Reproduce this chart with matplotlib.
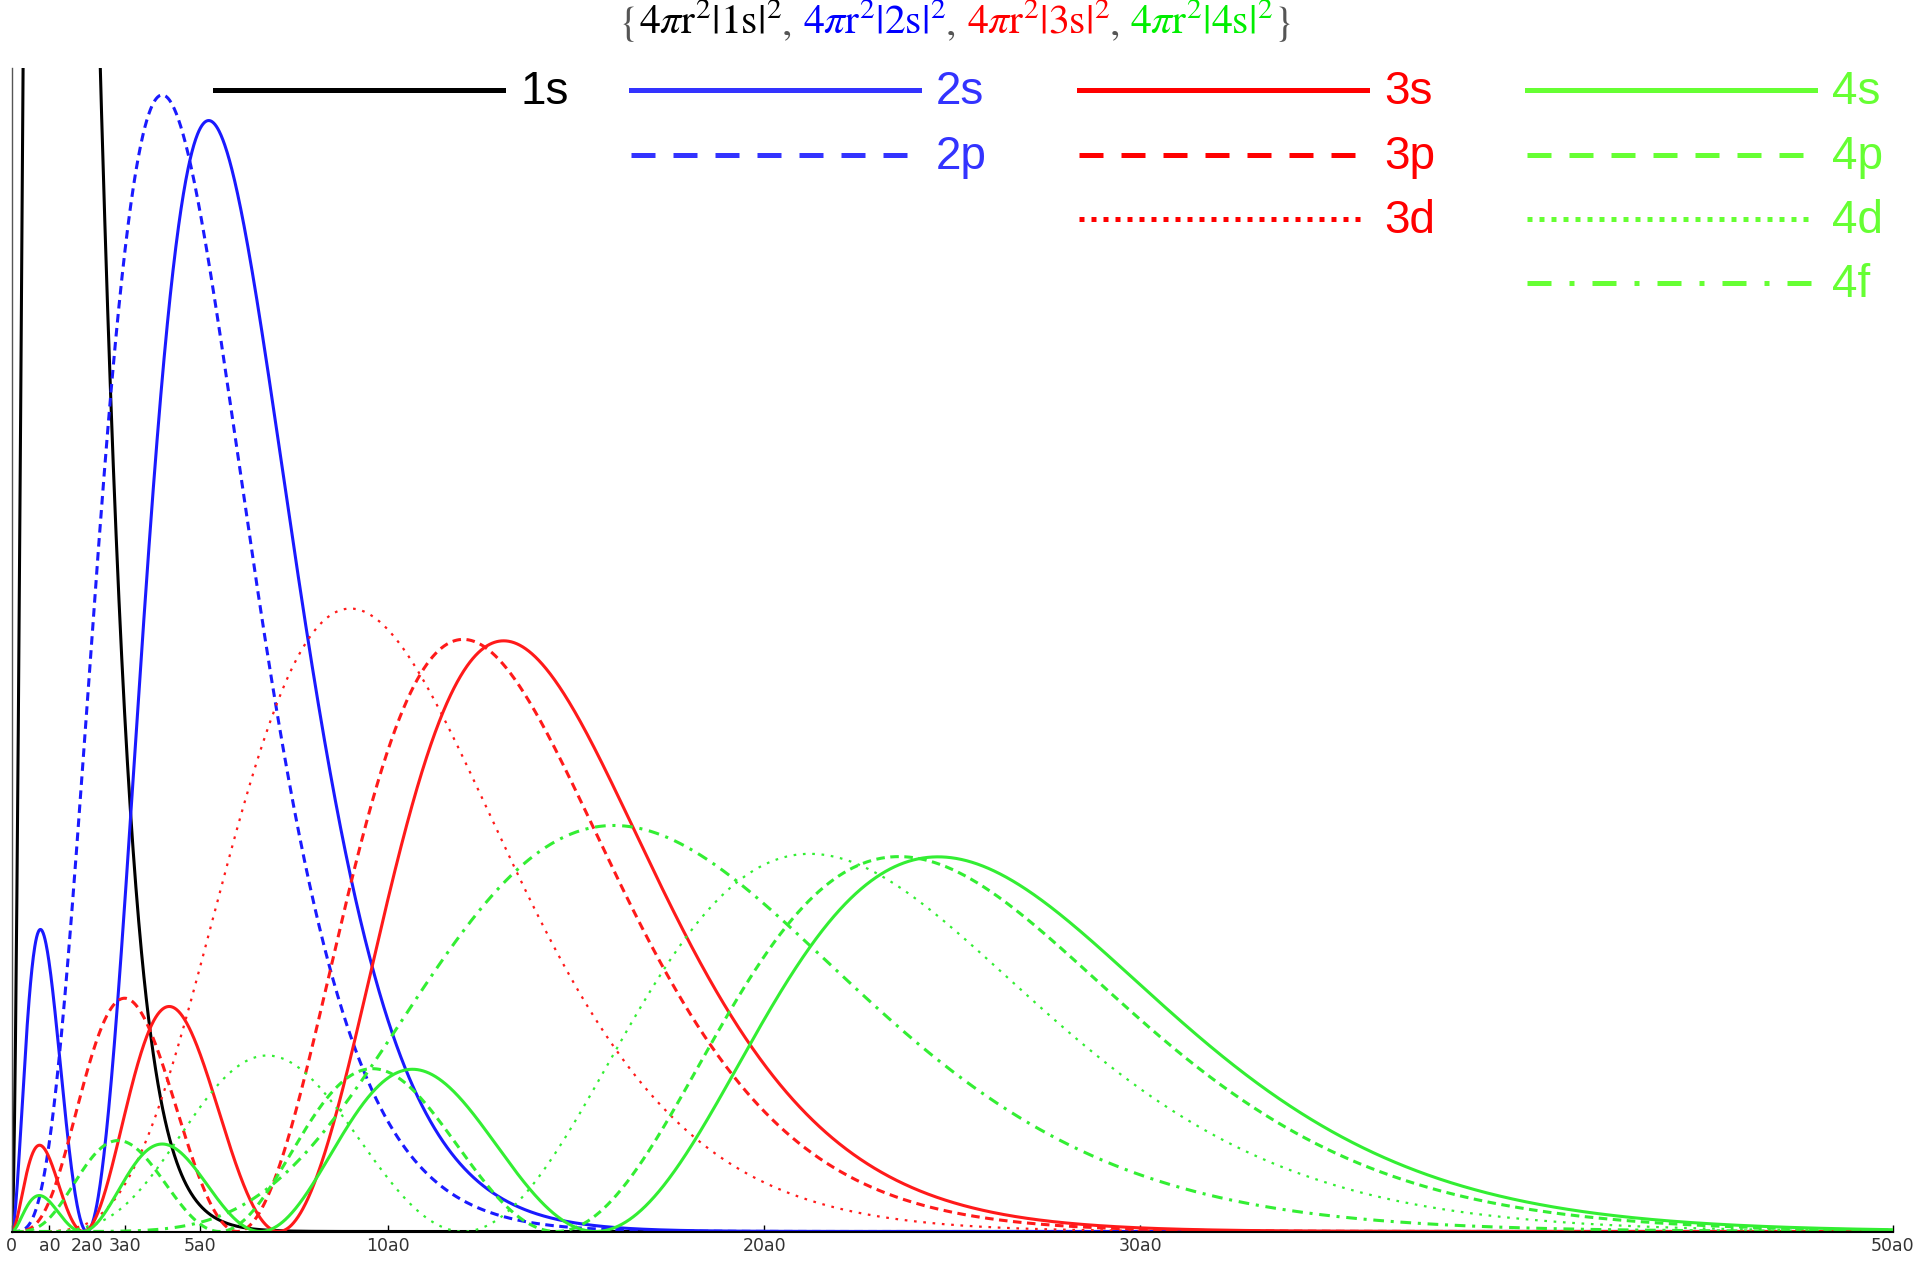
import numpy as np
import matplotlib.pyplot as plt
from matplotlib.lines import Line2D
from math import factorial, comb

orbitals = ["1s", "2s", "2p", "3s", "3p", "3d", "4s", "4p", "4d", "4f"]
n_vals = [1, 2, 2, 3, 3, 3, 4, 4, 4, 4]
l_vals = [0, 0, 1, 0, 1, 2, 0, 1, 2, 3]

tick_pos = [0, 1, 2, 3, 5, 10, 20, 30, 50]
tick_labels = ["0", "a0", "2a0", "3a0", "5a0", "10a0", "20a0", "30a0", "50a0"]
r_max = 50
p_max = 0.2

title_parts = ["{", r"$4\pi\mathrm{r}^2|1\mathrm{s}|^2$", ", ",
               r"$4\pi\mathrm{r}^2|2\mathrm{s}|^2$", ", ",
               r"$4\pi\mathrm{r}^2|3\mathrm{s}|^2$", ", ",
               r"$4\pi\mathrm{r}^2|4\mathrm{s}|^2$", "}"]
title_cols = ["#555555", "black", "#555555", "#0000ff", "#555555", "#ff0000",
              "#555555", "#00ee00", "#555555"]

curve_col = {1: "black", 2: "#1a1aff", 3: "#ff1a1a", 4: "#33ee33"}
leg_col = {1: "black", 2: "#3333ff", 3: "#ff0000", 4: "#66ff33"}


def radial_prob(n, l, r):
    # r^2 |R_nl|^2 with r in units of a0
    rho = 2 * r / n
    k = n - l - 1
    a = 2 * l + 1
    L = sum((-1) ** i * comb(k + a, k - i) * rho ** i / factorial(i) for i in range(k + 1))
    norm = np.sqrt((2 / n) ** 3 * factorial(k) / (2 * n * factorial(n + l)))
    R = norm * np.exp(-rho / 2) * rho ** l * L
    return r ** 2 * R ** 2


def curve_style(l):
    if l == 0:
        return dict(linestyle="-", linewidth=2.2)
    if l == 1:
        return dict(linestyle=(0, (2.8, 1.8)), linewidth=2.2)
    if l == 2:
        return dict(linestyle=(0, (1.2, 3.0)), linewidth=1.6)
    return dict(linestyle=(0, (3.5, 2.2, 1.0, 2.2)), linewidth=2.2)


def legend_style(l):
    if l == 0:
        return dict(linestyle="-")
    if l == 1:
        return dict(linestyle=(0, (4.8, 3.6)))
    if l == 2:
        return dict(linestyle=(0, (1.0, 1.4)))
    return dict(linestyle=(0, (4.8, 3.6, 1.0, 3.6)))


plt.rcParams["mathtext.fontset"] = "stix"

W, H = 1923, 1266
fig = plt.figure(figsize=(W / 100, H / 100), dpi=100)
ax = fig.add_axes([11.7 / W, 1 - 1231.5 / H, (1893 - 11.7) / W, (1231.5 - 68) / H])

r = np.linspace(0, r_max, 4000)
for name, n, l in zip(orbitals, n_vals, l_vals):
    ax.plot(r, radial_prob(n, l, r), color=curve_col[n], **curve_style(l))

ax.set_xlim(0, r_max)
ax.set_ylim(0, p_max)
ax.set_xticks(tick_pos, tick_labels)
ax.set_yticks([])
ax.tick_params(axis="x", direction="in", length=5, width=1, labelsize=12.5, pad=4,
               labelcolor="#333333")
ax.spines["top"].set_visible(False)
ax.spines["right"].set_visible(False)
ax.spines["left"].set_color("#555555")
ax.spines["left"].set_linewidth(1)
ax.spines["bottom"].set_linewidth(1.5)

# legend, drawn by hand in Mathematica's column layout
col_x = {1: 215, 2: 631, 3: 1079, 4: 1527}
row_y = [90, 155, 219, 283]
for name, n, l in zip(orbitals, n_vals, l_vals):
    x0 = col_x[n] / W
    x1 = (col_x[n] + 288) / W
    y = 1 - row_y[l] / H
    fig.add_artist(Line2D([x0, x1], [y, y], transform=fig.transFigure,
                          color=leg_col[n], linewidth=3.6, **legend_style(l)))
    fig.text((col_x[n] + 288 + 17) / W, 1 - (row_y[l] + 14) / H, name,
             color=leg_col[n], fontsize=33, family="Liberation Sans",
             va="baseline", ha="left")

# coloured title, pieces placed one after another
renderer = fig.canvas.get_renderer()
x = 619
for part, c in zip(title_parts, title_cols):
    t = fig.text(x / W, 1 - 34 / H, part, color=c, fontsize=30,
                 family="STIXGeneral", va="baseline", ha="left")
    x = t.get_window_extent(renderer).x1

fig.savefig("out.png", dpi=100)
